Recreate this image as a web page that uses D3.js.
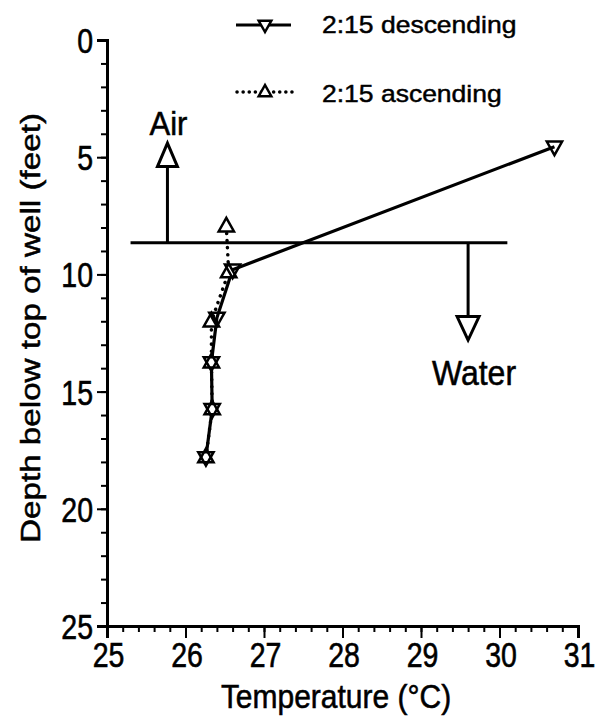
<!DOCTYPE html>
<html><head><meta charset="utf-8">
<script src="https://cdn.jsdelivr.net/npm/d3@7"></script>
<style>body{margin:0;background:#fff}svg{display:block}text{font-family:"Liberation Sans",Arial,sans-serif;fill:#000;stroke:#000;stroke-width:0.5px}</style>
</head><body>
<svg id="c" width="603" height="720"></svg>
<script>
const descTemp = [30.7, 26.6, 26.4, 26.33, 26.34, 26.26];
const descDepth = [4.55, 9.8, 11.85, 13.75, 15.75, 17.8];
const ascTemp = [26.52, 26.55, 26.33, 26.33, 26.34, 26.26];
const ascDepth = [7.95, 9.9, 12.0, 13.75, 15.75, 17.8];
const xTicks = [25, 26, 27, 28, 29, 30, 31];
const yTicks = [0, 5, 10, 15, 20, 25];
const seriesNames = ["2:15 descending", "2:15 ascending"];
const boundaryDepth = 8.65, boundaryT0 = 25.3, boundaryT1 = 30.1;

const svg = d3.select("#c");
const x = d3.scaleLinear().domain([25, 31]).range([107, 578]);
const y = d3.scaleLinear().domain([0, 25]).range([40, 626]);

// axes
const gx = svg.append("g").attr("transform", `translate(0,${y(25)})`)
  .call(d3.axisBottom(x).tickValues(xTicks).tickSize(12).tickPadding(6).tickFormat(d3.format("d")));
const gxm = svg.append("g").attr("transform", `translate(0,${y(25)})`)
  .call(d3.axisBottom(x).tickValues(d3.range(25, 31.01, 0.2)).tickSize(6).tickFormat(""));
const gy = svg.append("g").attr("transform", `translate(${x(25)},0)`)
  .call(d3.axisLeft(y).tickValues(yTicks).tickSize(10).tickPadding(4).tickFormat(d3.format("d")));
const gym = svg.append("g").attr("transform", `translate(${x(25)},0)`)
  .call(d3.axisLeft(y).tickValues(d3.range(0, 25.01, 1)).tickSize(6).tickFormat(""));
[gx, gxm, gy, gym].forEach(g => {
  g.select(".domain").attr("stroke", "#000").attr("stroke-width", 3);
  g.selectAll(".tick line").attr("stroke", "#000").attr("stroke-width", 2);
});
gx.selectAll("text").attr("font-size", 28.5).attr("y", 0).attr("dy", 0)
  .attr("transform", `translate(1,${667 - y(25)}) scale(1,1.22)`);
gy.selectAll("text").attr("font-size", 28.5).attr("dy", "0.36em").attr("transform", "scale(1,1.22)");

svg.append("text").attr("transform", "translate(336,708) scale(1,1.1)").attr("text-anchor", "middle")
  .attr("font-size", 30).text("Temperature (°C)");
svg.append("text").attr("transform", "translate(40,328) scale(1,1.23) rotate(-90)").attr("text-anchor", "middle")
  .attr("font-size", 27).text("Depth below top of well (feet)");

// boundary line
svg.append("line").attr("x1", x(boundaryT0)).attr("x2", x(boundaryT1))
  .attr("y1", y(boundaryDepth)).attr("y2", y(boundaryDepth)).attr("stroke", "#000").attr("stroke-width", 3);

// Air arrow
const airX = x(25.77);
svg.append("line").attr("x1", airX).attr("x2", airX).attr("y1", y(boundaryDepth)).attr("y2", y(5.4))
  .attr("stroke", "#000").attr("stroke-width", 3);
svg.append("path").attr("d", `M${airX},${y(4.4)} L${airX-10},${y(5.4)} L${airX+10},${y(5.4)} Z`)
  .attr("fill", "#fff").attr("stroke", "#000").attr("stroke-width", 3).attr("stroke-linejoin", "miter");
svg.append("text").attr("transform", `translate(${airX + 1},135) scale(1,1.05)`).attr("text-anchor", "middle").attr("font-size", 31).text("Air");

// Water arrow
const watX = x(29.6);
svg.append("line").attr("x1", watX).attr("x2", watX).attr("y1", y(boundaryDepth)).attr("y2", y(11.8))
  .attr("stroke", "#000").attr("stroke-width", 3);
svg.append("path").attr("d", `M${watX},${y(12.8)} L${watX-11},${y(11.8)} L${watX+11},${y(11.8)} Z`)
  .attr("fill", "#fff").attr("stroke", "#000").attr("stroke-width", 3);
svg.append("text").attr("transform", `translate(474,385) scale(1,1.08)`).attr("text-anchor", "middle").attr("font-size", 32).text("Water");

// data
const line = d3.line().x(d => x(d[0])).y(d => y(d[1]));
const desc = descTemp.map((t, i) => [t, descDepth[i]]);
const asc = ascTemp.map((t, i) => [t, ascDepth[i]]);
svg.append("path").attr("d", line(asc)).attr("fill", "none").attr("stroke", "#000")
  .attr("stroke-width", 3.5).attr("stroke-dasharray", "0.1 7").attr("stroke-linecap", "round");
svg.append("path").attr("d", line(desc)).attr("fill", "none").attr("stroke", "#000").attr("stroke-width", 3.2);

const triUp = (cx, cy, s) => `M${cx},${cy - s} L${cx - s * 0.9},${cy + s * 0.6} L${cx + s * 0.9},${cy + s * 0.6} Z`;
const triDown = (cx, cy, s) => `M${cx},${cy + s} L${cx - s * 0.9},${cy - s * 0.6} L${cx + s * 0.9},${cy - s * 0.6} Z`;
svg.append("g").selectAll("path").data(asc).join("path")
  .attr("d", d => triUp(x(d[0]), y(d[1]), 8.5)).attr("fill", "#fff").attr("stroke", "#000").attr("stroke-width", 2.5);
svg.append("g").selectAll("path").data(desc).join("path")
  .attr("d", d => triDown(x(d[0]), y(d[1]), 8.5)).attr("fill", "none").attr("stroke", "#000").attr("stroke-width", 2.5);

// legend
const lg = svg.append("g");
lg.append("line").attr("x1", 236).attr("x2", 291).attr("y1", 25).attr("y2", 25).attr("stroke", "#000").attr("stroke-width", 3);
lg.append("path").attr("d", triDown(265, 25, 7)).attr("fill", "#fff").attr("stroke", "#000").attr("stroke-width", 2.5);
lg.append("text").attr("transform", "translate(322,33) scale(1,0.92)").attr("font-size", 26.5).text(seriesNames[0]);
lg.append("line").attr("x1", 237).attr("x2", 293).attr("y1", 92).attr("y2", 92).attr("stroke", "#000")
  .attr("stroke-width", 3.5).attr("stroke-dasharray", "0.1 6").attr("stroke-linecap", "round");
lg.append("path").attr("d", triUp(265, 92, 7)).attr("fill", "#fff").attr("stroke", "#000").attr("stroke-width", 2.5);
lg.append("text").attr("transform", "translate(322,102) scale(1,0.92)").attr("font-size", 26.5).text(seriesNames[1]);
</script>
</body></html>
